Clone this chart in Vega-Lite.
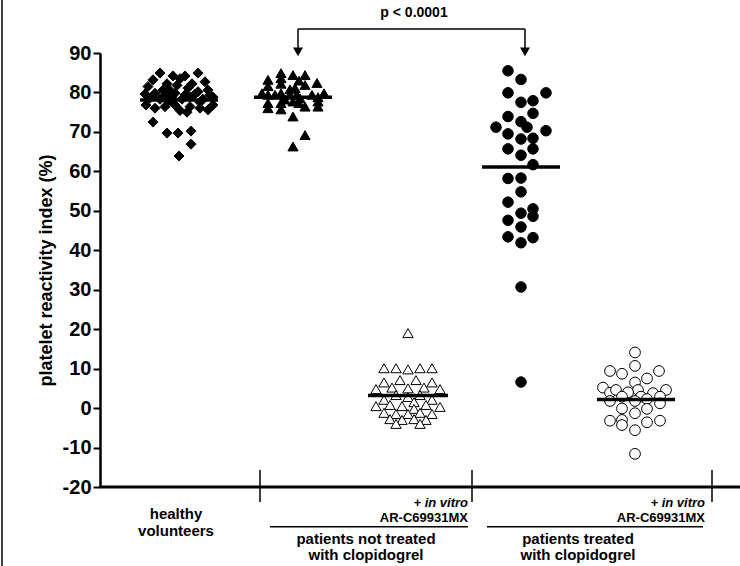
{
  "$schema": "https://vega.github.io/schema/vega-lite/v6.json",
  "width": 640,
  "height": 434,
  "autosize": {"type": "none"},
  "padding": {"left": 100, "top": 53, "right": 0, "bottom": 79},
  "background": "white",
  "config": {"view": {"stroke": null}, "font": "Liberation Sans"},
  "datasets": {
    "pts": [
      {"g":"hv","x":160,"v":84.9},{"g":"hv","x":173,"v":84.2},{"g":"hv","x":185,"v":84.2},{"g":"hv","x":198,"v":84.9},
      {"g":"hv","x":153,"v":83.2},{"g":"hv","x":180,"v":83.5},{"g":"hv","x":167,"v":82.2},{"g":"hv","x":192,"v":82.2},{"g":"hv","x":205,"v":82.7},
      {"g":"hv","x":148,"v":81.5},{"g":"hv","x":177,"v":81.8},{"g":"hv","x":163,"v":80.6},{"g":"hv","x":188,"v":81.1},{"g":"hv","x":208,"v":80.6},{"g":"hv","x":198,"v":80.2},{"g":"hv","x":170,"v":80.5},
      {"g":"hv","x":145,"v":79.6},{"g":"hv","x":155,"v":79.8},{"g":"hv","x":165,"v":79.4},{"g":"hv","x":175,"v":79.8},{"g":"hv","x":185,"v":79.4},{"g":"hv","x":195,"v":79.6},{"g":"hv","x":210,"v":79.4},{"g":"hv","x":213,"v":78.8},
      {"g":"hv","x":150,"v":78.6},{"g":"hv","x":160,"v":78.3},{"g":"hv","x":172,"v":78.8},{"g":"hv","x":182,"v":78.3},{"g":"hv","x":190,"v":78.8},{"g":"hv","x":203,"v":78.3},{"g":"hv","x":168,"v":77.8},{"g":"hv","x":200,"v":77.5},
      {"g":"hv","x":146,"v":76.8},{"g":"hv","x":155,"v":76.0},{"g":"hv","x":165,"v":76.4},{"g":"hv","x":175,"v":76.8},{"g":"hv","x":180,"v":75.4},{"g":"hv","x":190,"v":76.4},{"g":"hv","x":200,"v":76.0},{"g":"hv","x":208,"v":75.6},{"g":"hv","x":213,"v":76.8},{"g":"hv","x":187,"v":75.0},
      {"g":"hv","x":153,"v":72.5},{"g":"hv","x":167,"v":69.7},{"g":"hv","x":178,"v":69.7},{"g":"hv","x":191,"v":70.2},{"g":"hv","x":191,"v":66.9},{"g":"hv","x":179,"v":63.9},

      {"g":"nt","x":281,"v":84.9},{"g":"nt","x":293,"v":84.4},{"g":"nt","x":305,"v":84.4},{"g":"nt","x":268,"v":83.2},{"g":"nt","x":281,"v":83.6},{"g":"nt","x":299,"v":83.0},{"g":"nt","x":317,"v":82.4},{"g":"nt","x":305,"v":81.9},{"g":"nt","x":281,"v":82.2},{"g":"nt","x":268,"v":81.6},{"g":"nt","x":290,"v":80.8},{"g":"nt","x":295,"v":81.1},
      {"g":"nt","x":262,"v":79.8},{"g":"nt","x":268,"v":79.4},{"g":"nt","x":275,"v":79.4},{"g":"nt","x":281,"v":79.8},{"g":"nt","x":290,"v":79.4},{"g":"nt","x":297,"v":79.4},{"g":"nt","x":312,"v":79.4},{"g":"nt","x":324,"v":79.8},{"g":"nt","x":318,"v":78.8},{"g":"nt","x":300,"v":78.5},{"g":"nt","x":285,"v":78.2},
      {"g":"nt","x":268,"v":77.3},{"g":"nt","x":268,"v":76.0},{"g":"nt","x":281,"v":77.3},{"g":"nt","x":281,"v":75.7},{"g":"nt","x":293,"v":77.7},{"g":"nt","x":299,"v":77.3},{"g":"nt","x":305,"v":76.4},{"g":"nt","x":318,"v":76.4},{"g":"nt","x":318,"v":77.7},{"g":"nt","x":293,"v":73.9},{"g":"nt","x":305,"v":69.2},{"g":"nt","x":293,"v":66.3},

      {"g":"ntar","x":408,"v":19.0},
      {"g":"ntar","x":384,"v":10.1},{"g":"ntar","x":396,"v":10.1},{"g":"ntar","x":408,"v":9.8},{"g":"ntar","x":420,"v":10.1},{"g":"ntar","x":432,"v":10.1},
      {"g":"ntar","x":384,"v":6.5},{"g":"ntar","x":400,"v":7.1},{"g":"ntar","x":416,"v":7.1},{"g":"ntar","x":432,"v":6.5},
      {"g":"ntar","x":376,"v":4.8},{"g":"ntar","x":392,"v":5.2},{"g":"ntar","x":408,"v":5.0},{"g":"ntar","x":424,"v":5.2},{"g":"ntar","x":440,"v":4.8},
      {"g":"ntar","x":384,"v":2.1},{"g":"ntar","x":396,"v":3.3},{"g":"ntar","x":408,"v":2.8},{"g":"ntar","x":420,"v":3.3},{"g":"ntar","x":432,"v":2.1},{"g":"ntar","x":414,"v":1.5},
      {"g":"ntar","x":376,"v":0.5},{"g":"ntar","x":390,"v":0.8},{"g":"ntar","x":402,"v":0.5},{"g":"ntar","x":414,"v":-0.2},{"g":"ntar","x":426,"v":0.8},{"g":"ntar","x":440,"v":0.3},
      {"g":"ntar","x":384,"v":-1.2},{"g":"ntar","x":396,"v":-1.5},{"g":"ntar","x":408,"v":-1.5},{"g":"ntar","x":420,"v":-1.2},{"g":"ntar","x":432,"v":-1.5},
      {"g":"ntar","x":390,"v":-2.8},{"g":"ntar","x":402,"v":-3.0},{"g":"ntar","x":414,"v":-2.8},{"g":"ntar","x":426,"v":-3.0},
      {"g":"ntar","x":396,"v":-4.0},{"g":"ntar","x":420,"v":-4.0},

      {"g":"t","x":508,"v":85.5},{"g":"t","x":521,"v":83.3},{"g":"t","x":508,"v":79.9},{"g":"t","x":546,"v":79.9},{"g":"t","x":521,"v":77.5},{"g":"t","x":533,"v":77.9},
      {"g":"t","x":533,"v":74.7},{"g":"t","x":508,"v":73.9},{"g":"t","x":521,"v":72.6},{"g":"t","x":527,"v":71.2},{"g":"t","x":496,"v":71.2},{"g":"t","x":546,"v":70.3},
      {"g":"t","x":508,"v":69.5},{"g":"t","x":521,"v":68.2},{"g":"t","x":533,"v":68.4},{"g":"t","x":508,"v":65.7},{"g":"t","x":533,"v":65.7},{"g":"t","x":521,"v":64.1},{"g":"t","x":533,"v":61.7},
      {"g":"t","x":508,"v":58.2},{"g":"t","x":521,"v":58.3},{"g":"t","x":521,"v":54.8},{"g":"t","x":508,"v":52.2},{"g":"t","x":533,"v":50.5},{"g":"t","x":521,"v":49.4},{"g":"t","x":533,"v":48.6},
      {"g":"t","x":508,"v":47.6},{"g":"t","x":521,"v":45.9},{"g":"t","x":508,"v":43.4},{"g":"t","x":533,"v":43.2},{"g":"t","x":521,"v":41.9},{"g":"t","x":521,"v":30.7},{"g":"t","x":521,"v":6.6},

      {"g":"tar","x":635,"v":14.1},{"g":"tar","x":635,"v":10.7},{"g":"tar","x":610,"v":9.4},{"g":"tar","x":622,"v":8.7},{"g":"tar","x":659,"v":9.4},{"g":"tar","x":647,"v":7.5},{"g":"tar","x":635,"v":6.5},
      {"g":"tar","x":638,"v":4.6},{"g":"tar","x":603,"v":5.2},{"g":"tar","x":610,"v":3.9},{"g":"tar","x":616,"v":4.6},{"g":"tar","x":628,"v":4.0},{"g":"tar","x":653,"v":3.8},{"g":"tar","x":666,"v":4.6},
      {"g":"tar","x":622,"v":2.9},{"g":"tar","x":641,"v":2.9},{"g":"tar","x":647,"v":2.3},{"g":"tar","x":660,"v":2.9},{"g":"tar","x":610,"v":1.8},{"g":"tar","x":635,"v":1.8},{"g":"tar","x":660,"v":1.2},
      {"g":"tar","x":622,"v":-0.1},{"g":"tar","x":647,"v":-0.2},{"g":"tar","x":635,"v":-1.3},{"g":"tar","x":610,"v":-3.2},{"g":"tar","x":622,"v":-3.0},{"g":"tar","x":622,"v":-4.3},{"g":"tar","x":647,"v":-3.6},
      {"g":"tar","x":660,"v":-3.2},{"g":"tar","x":635,"v":-5.6},{"g":"tar","x":635,"v":-11.6}
    ],
    "medians": [
      {"x":140,"x2":218,"v":78.1},{"x":254,"x2":332,"v":78.8},{"x":368,"x2":448,"v":3.2},{"x":482,"x2":560,"v":61.1},{"x":597,"x2":675,"v":2.2}
    ],
    "thin": [
      {"x":260,"x2":260,"v":-15.7,"v2":-23.8},
      {"x":472,"x2":472,"v":-15.7,"v2":-23.8},
      {"x":712,"x2":712,"v":-15.7,"v2":-23.8},
      {"x":270,"x2":468,"v":-30.1,"v2":-30.1},
      {"x":487,"x2":703,"v":-30.1,"v2":-30.1},
      {"x":298,"x2":525,"v":96.1,"v2":96.1},
      {"x":298,"x2":298,"v":96.1,"v2":90.8},
      {"x":525,"x2":525,"v":96.1,"v2":90.8},
      {"x":2,"x2":2,"v":103.5,"v2":-40}
    ],
    "base": [{"x":100,"x2":740,"v":-20}],
    "arrows": [{"x":298,"v":90.3},{"x":525,"v":90.3}],
    "center_labels": [
      {"x":414,"v":100.2,"t":"p < 0.0001"}
    ],
    "group_labels": [
      {"x":176,"v":-26.8,"t":"healthy"},
      {"x":176,"v":-31.2,"t":"volunteers"},
      {"x":366,"v":-33.3,"t":"patients not treated"},
      {"x":366,"v":-37.3,"t":"with clopidogrel"},
      {"x":578,"v":-33.3,"t":"patients treated"},
      {"x":578,"v":-37.3,"t":"with clopidogrel"}
    ],
    "invitro": [
      {"x":468,"v":-24.1,"t":"+ in vitro"},
      {"x":705,"v":-24.1,"t":"+ in vitro"}
    ],
    "ar": [
      {"x":468,"v":-27.9,"t":"AR-C69931MX"},
      {"x":705,"v":-27.9,"t":"AR-C69931MX"}
    ]
  },
  "encoding": {
    "x": {"field": "x", "type": "quantitative", "scale": {"domain": [100, 740], "nice": false, "zero": false}, "axis": null},
    "y": {"field": "v", "type": "quantitative", "scale": {"domain": [-20, 90], "nice": false, "zero": false},
      "axis": {"values": [-20,-10,0,10,20,30,40,50,60,70,80,90], "title": "platelet reactivity index (%)", "grid": false,
        "labelExpr": "datum.value < 0 ? '-' + abs(datum.value) : datum.label",
        "labelFont": "Liberation Sans", "labelFontWeight": "bold", "labelFontSize": 20, "labelColor": "black", "labelPadding": 2,
        "tickColor": "black", "tickWidth": 2, "tickSize": 7, "domainColor": "black", "domainWidth": 2.5,
        "titleFont": "Liberation Sans", "titleFontWeight": "bold", "titleFontSize": 18, "titleColor": "black", "titlePadding": 7}}
  },
  "layer": [
    {"data": {"name": "pts"}, "mark": {"type": "point", "filled": true, "stroke": "black", "strokeWidth": 1, "opacity": 1},
      "encoding": {
        "shape": {"field": "g", "scale": {"domain": ["hv","nt","ntar","t","tar"], "range": ["diamond","triangle-up","triangle-up","circle","circle"]}, "legend": null},
        "fill": {"field": "g", "scale": {"domain": ["hv","nt","ntar","t","tar"], "range": ["black","black","white","black","white"]}, "legend": null},
        "size": {"field": "g", "scale": {"domain": ["hv","nt","ntar","t","tar"], "range": [100,115,85,90,75]}, "legend": null}
      }},
    {"data": {"name": "medians"}, "mark": {"type": "rule", "strokeWidth": 3.5, "color": "black"},
      "encoding": {"x2": {"field": "x2"}}},
    {"data": {"name": "base"}, "mark": {"type": "rule", "strokeWidth": 3, "color": "black"},
      "encoding": {"x2": {"field": "x2"}}},
    {"data": {"name": "thin"}, "mark": {"type": "rule", "strokeWidth": 1.5, "color": "black", "clip": false},
      "encoding": {"x2": {"field": "x2"}, "y2": {"field": "v2"}}},
    {"data": {"name": "arrows"}, "mark": {"type": "point", "shape": "triangle-down", "filled": true, "color": "black", "size": 100, "opacity": 1},
      "encoding": {}},
    {"data": {"name": "center_labels"}, "mark": {"type": "text", "font": "Liberation Sans", "fontWeight": "bold", "fontSize": 14, "align": "center", "baseline": "middle", "color": "black"},
      "encoding": {"text": {"field": "t"}}},
    {"data": {"name": "group_labels"}, "mark": {"type": "text", "font": "Liberation Sans", "fontWeight": "bold", "fontSize": 15, "align": "center", "baseline": "middle", "color": "black"},
      "encoding": {"text": {"field": "t"}}},
    {"data": {"name": "invitro"}, "mark": {"type": "text", "font": "Liberation Sans", "fontWeight": "bold", "fontStyle": "italic", "fontSize": 13, "align": "right", "baseline": "middle", "color": "black"},
      "encoding": {"text": {"field": "t"}}},
    {"data": {"name": "ar"}, "mark": {"type": "text", "font": "Liberation Sans", "fontWeight": "bold", "fontSize": 13, "align": "right", "baseline": "middle", "color": "black"},
      "encoding": {"text": {"field": "t"}}}
  ]
}
